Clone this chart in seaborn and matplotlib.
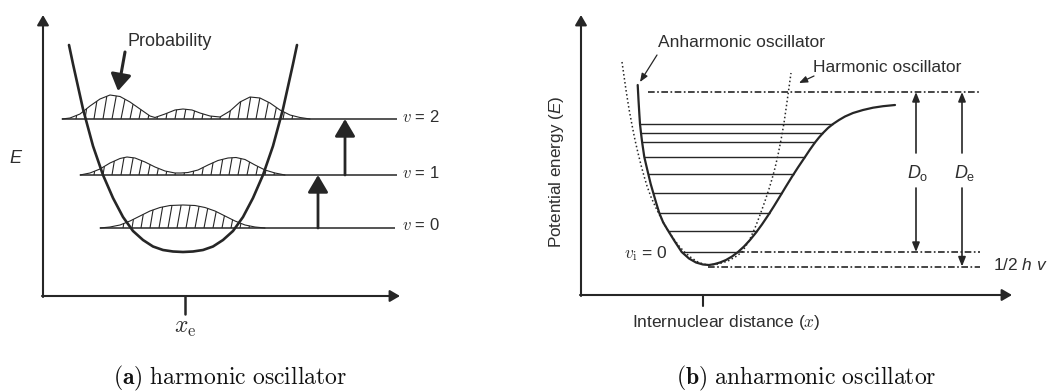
import numpy as np
import pandas as pd
import matplotlib
matplotlib.use("Agg")
import matplotlib.pyplot as plt
import seaborn as sns
from matplotlib.collections import LineCollection

# ---------------- data : panel (a) harmonic oscillator ----------------
# potential curve (x = displacement from x_e, E = energy above the x axis)
harm_x = [-116, -112, -102, -92, -82, -72, -62, -52, -42, -32, -22, -12, -2,
          8, 18, 28, 38, 48, 58, 68, 78, 88, 98, 108, 112]
harm_E = [251, 232, 187, 150, 121, 98, 79, 65, 56, 49.5, 46, 44.5, 44,
          44.5, 46, 49.5, 56, 65, 79, 98, 121, 150, 187, 232, 251]
levels_a = [68, 121, 177]                 # v = 0, 1, 2
levels_a_from = [-85, -105, -123]
levels_a_to = [210, 212, 212]
levels_a_labels = ["$v$ = 0", "$v$ = 1", "$v$ = 2"]

# probability densities drawn on each level
prob0_x = [-85, -75, -65, -55, -45, -35, -25, -15, -2, 10, 20, 30, 40, 50, 60, 70, 80]
prob0_h = [0, 1, 3, 7, 12, 17, 20.5, 22.5, 23, 22.5, 20.5, 17, 12, 7, 3, 1, 0]
prob1_x = [-105, -95, -85, -75, -65, -58, -50, -40, -30, -20, -10, -4, 3, 13,
           23, 33, 43, 51, 60, 70, 80, 90, 100]
prob1_h = [0, 2, 6, 12, 16.5, 18, 17, 13, 8, 4, 2, 2, 2.5, 5,
           10, 14.5, 17, 17.5, 15.5, 10, 5, 2, 0]
prob2_x = [-123, -115, -105, -95, -85, -75, -65, -55, -45, -35, -30, -20, -10, -2,
           7, 15, 25, 35, 45, 55, 65, 75, 85, 95, 105, 115, 125]
prob2_h = [0, 1, 5, 13, 20, 24, 22.5, 17, 10, 3, 1.5, 5, 9, 10,
           9, 6, 3, 2, 8, 17, 22, 21, 16, 9, 4, 1.5, 0]
transition_x = [133, 160]

# ---------------- data : panel (b) anharmonic oscillator ----------------
morse_x = [-65.3, -64.5, -63.6, -63, -62, -60.9, -58.7, -56.6, -54.7, -52.3, -49.7,
           -46.8, -43.7, -39.8, -34.7, -28.5, -21.3, -14, -7, 0, 6,
           11, 17, 23, 29, 35, 41, 47, 53, 59, 65, 71, 77, 83, 89, 95, 102,
           107, 112, 116, 120, 125, 130, 136, 142, 150, 160, 170, 180, 192]
morse_E = [210, 195, 180, 171, 162, 153, 138, 129, 121, 111, 102,
           92, 82, 72.5, 64, 54, 43, 36.5, 32.5, 30.5, 30,
           30.8, 32.5, 35, 38.5, 43, 48.5, 55, 62.4, 70.6, 79.5, 88.9, 98.7, 108.6,
           118.3, 127.6, 138, 145.5, 152.5, 157.5, 162, 167, 171, 175, 178.5, 182,
           185, 187.3, 188.8, 190]
harmref_x = [-81, -77, -74, -71, -68, -65, -62, -59, -56, -52, -47, -42, -36, -30,
             -24, -18, -12, -6, 0, 5, 15, 25, 33, 39, 46, 52, 57, 62, 66, 69, 72,
             75, 78, 81, 84, 88]
harmref_E = [233, 205, 186, 170, 155, 142, 130, 119, 109, 98, 87, 77, 66, 57,
             49, 42.5, 37.5, 33.5, 31, 30, 31, 34, 38.5, 43, 54, 67, 80, 94, 106,
             116, 127, 140, 155, 172, 193, 222]
levels_b = [43, 64, 82, 102, 121, 138, 153, 162, 171]
dissociation_E = 203
zero_point_E = 43
minimum_E = 28.5

INK = "#262626"
TXT = "#2e2e2e"

sns.set_theme(style="white")
plt.rcParams["font.family"] = ["Liberation Sans", "DejaVu Sans"]
plt.rcParams["mathtext.fontset"] = "custom"
plt.rcParams["mathtext.it"] = "Liberation Sans:italic"
plt.rcParams["mathtext.rm"] = "Liberation Sans"
plt.rcParams["mathtext.sf"] = "Liberation Sans"
plt.rcParams["mathtext.bf"] = "Liberation Sans:bold"

W, H = 1052, 392
fig = plt.figure(figsize=(W / 100, H / 100), dpi=100)
axA = fig.add_axes([0, 0, 520 / W, 1])
axB = fig.add_axes([520 / W, 0, 532 / W, 1])


def arrow(ax, p0, p1, lw, hl, hw, color=INK):
    ax.annotate("", xy=p1, xytext=p0,
                arrowprops=dict(arrowstyle=f"-|>,head_length={hl},head_width={hw}",
                                color=color, lw=lw, shrinkA=0, shrinkB=0,
                                mutation_scale=10),
                annotation_clip=False)


# ======================= panel (a) =======================
ax = axA
arrow(ax, (-142, -1), (-142, 281), 1.5, 0.6, 0.35)
arrow(ax, (-143, 0), (215, 0), 1.5, 0.6, 0.35)
ax.plot([0, 0], [0, -18], color=INK, lw=1.8)

for base, x0, x1, lab in zip(levels_a, levels_a_from, levels_a_to, levels_a_labels):
    ax.hlines(base, x0, x1, color=INK, lw=1.1)
    ax.text(217, base + 2.5, lab, ha="left", va="center", fontsize=12,
            color=TXT, math_fontfamily="cm")

for base, hx, hh in [(levels_a[0], prob0_x, prob0_h),
                     (levels_a[1], prob1_x, prob1_h),
                     (levels_a[2], prob2_x, prob2_h)]:
    hx_a = np.asarray(hx, float)
    hh_a = np.asarray(hh, float)
    sns.lineplot(x=hx_a, y=base + hh_a, ax=ax, color=INK, lw=0.8,
                 sort=False, estimator=None)
    segs = []
    for xs in np.arange(hx_a[0] + 5, hx_a[-1] - 2, 9.0):
        h0 = np.interp(xs, hx_a, hh_a)
        if h0 < 2:
            continue
        xt = xs + 0.18 * h0
        segs.append([(xs, base), (xt, base + np.interp(xt, hx_a, hh_a))])
    ax.add_collection(LineCollection(segs, colors=INK, linewidths=0.8))

sns.lineplot(x=harm_x, y=harm_E, ax=ax, color=INK, lw=1.9, sort=False, estimator=None)

arrow(ax, (transition_x[0], levels_a[0]), (transition_x[0], levels_a[1]), 2.0, 1.05, 0.62)
arrow(ax, (transition_x[1], levels_a[1]), (transition_x[1], levels_a[2]), 2.0, 1.05, 0.62)

ax.text(-15, 254, "Probability", ha="center", va="center", fontsize=13, color=TXT)
arrow(ax, (-60, 244), (-67, 205), 2.2, 1.0, 0.62)
ax.text(-169, 138, "$E$", ha="center", va="center", fontsize=13, color=TXT)
ax.text(0, -32, r"$x_{\rm e}$", ha="center", va="center", fontsize=17,
        color=TXT, math_fontfamily="cm")

# ======================= panel (b) =======================
ax = axB
arrow(ax, (-122, -1), (-122, 280), 1.5, 0.6, 0.35)
arrow(ax, (-123, 0), (309, 0), 1.5, 0.6, 0.35)
ax.plot([0, 0], [0, -11], color=INK, lw=1.5)

mx = np.asarray(morse_x, float)
mE = np.asarray(morse_E, float)
imin = int(np.argmin(mE))
left_x, left_E = mx[:imin + 1], mE[:imin + 1]
right_x, right_E = mx[imin:], mE[imin:]
for lv in levels_b:
    xl = np.interp(lv, left_E[::-1], left_x[::-1])
    xr = np.interp(lv, right_E, right_x)
    ax.hlines(lv, xl, xr, color=INK, lw=1.0)

dashdot = (0, (4, 1.5, 1, 1.5))
xr0 = np.interp(zero_point_E, right_E, right_x)
ax.hlines(dissociation_E, -55, 277, color=INK, lw=1.2, linestyles=[dashdot])
ax.hlines(zero_point_E, xr0, 277, color=INK, lw=1.2, linestyles=[dashdot])
ax.hlines(minimum_E, 5, 277, color=INK, lw=1.2, linestyles=[dashdot])

sns.lineplot(x=harmref_x, y=harmref_E, ax=ax, color=INK, lw=1.1, linestyle=":",
             sort=False, estimator=None)
sns.lineplot(x=morse_x, y=morse_E, ax=ax, color=INK, lw=1.6, sort=False, estimator=None)

# D0 and De arrows
for xa, bottom in [(213, zero_point_E), (259, minimum_E)]:
    arrow(ax, (xa, 142), (xa, dissociation_E), 1.2, 0.55, 0.22)
    arrow(ax, (xa, 107), (xa, bottom), 1.2, 0.55, 0.22)
ax.text(215, 122, r"$D_{\rm o}$", ha="center", va="center", fontsize=13, color=TXT)
ax.text(262, 122, r"$D_{\rm e}$", ha="center", va="center", fontsize=13, color=TXT)
ax.text(290, 30, "1/2 $h$ $v$", ha="left", va="center", fontsize=12.5, color=TXT,
        clip_on=False)
ax.text(-57, 41, r"$v_{\rm i}$ = 0", ha="center", va="center", fontsize=12.5,
        color=TXT, math_fontfamily="cm")

ax.text(-45, 253, "Anharmonic oscillator", ha="left", va="center", fontsize=12.5, color=TXT)
arrow(ax, (-46, 240), (-63, 213), 0.9, 0.5, 0.2)
ax.text(110, 228, "Harmonic oscillator", ha="left", va="center", fontsize=12.5, color=TXT)
arrow(ax, (111, 219), (96, 212), 0.9, 0.5, 0.2)

ax.text(-146, 123, "Potential energy ($E$)", rotation=90, ha="center", va="center",
        fontsize=12.3, color=TXT)
ax.text(23, -27, "Internuclear distance ($x$)", ha="center", va="center",
        fontsize=12.5, color=TXT, math_fontfamily="cm")

for a, xl, yl in [(axA, (-185, 335), (-96, 296)), (axB, (-183, 349), (-97, 295))]:
    a.set_xlim(*xl)
    a.set_ylim(*yl)
    a.axis("off")

fig.text(230 / W, 1 - 378 / H, r"$\mathbf{(a)}\ \mathrm{harmonic\ oscillator}$",
         ha="center", va="center", fontsize=17, color="#111111", math_fontfamily="cm")
fig.text(806 / W, 1 - 378 / H, r"$\mathbf{(b)}\ \mathrm{anharmonic\ oscillator}$",
         ha="center", va="center", fontsize=17, color="#111111", math_fontfamily="cm")

fig.savefig("out.png", dpi=100)
